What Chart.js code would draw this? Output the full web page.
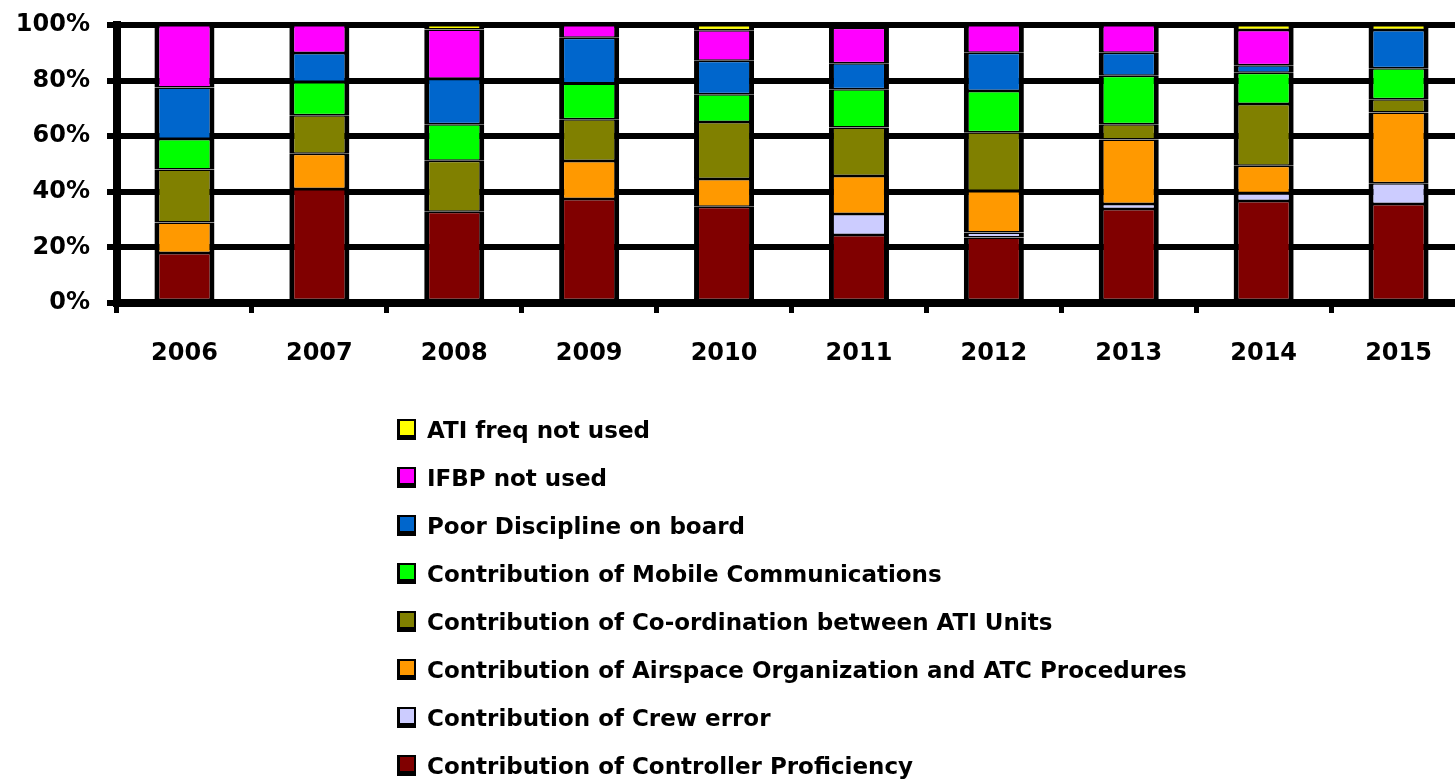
<!DOCTYPE html>
<html>
<head>
<meta charset="utf-8">
<script src="https://cdn.jsdelivr.net/npm/chart.js@4/dist/chart.umd.min.js"></script>
<style>
  html, body { margin: 0; padding: 0; background: #fff; overflow: hidden; }
  canvas { display: block; }
</style>
</head>
<body>
<canvas id="causesChart" width="1470" height="780"></canvas>
<script>
const years = ['2006', '2007', '2008', '2009', '2010', '2011', '2012', '2013', '2014', '2015'];

// shares in %, bottom of the stack first
const controllerProficiency = [18, 41, 32.8, 37.4, 34.6, 24.5, 23.6, 33.8, 36.7, 35.6];
const crewError             = [0, 0, 0, 0, 0, 7.5, 1.8, 1.8, 2.8, 7.5];
const airspaceAtcProcedures = [11, 12.7, 0, 13.7, 10, 13.7, 14.9, 23.2, 9.9, 25.4];
const coordinationAtiUnits  = [19, 13.8, 18.4, 15, 20.5, 17.4, 21.1, 5.5, 22.2, 4.8];
const mobileCommunications  = [11, 12, 13.1, 12.9, 10, 13.8, 14.9, 17.4, 11.2, 11.1];
const poorDiscipline        = [18.5, 10.4, 16.4, 16.4, 12, 9.3, 13.7, 8.3, 2.7, 13.8];
const ifbpNotUsed           = [22.5, 10.1, 17.7, 4.6, 11, 12.8, 10, 10, 12.7, 0];
const atiFreqNotUsed        = [0, 0, 1.6, 0, 1.9, 1, 0, 0, 1.8, 1.8];

const yTicks = [0, 20, 40, 60, 80, 100];

function makeSet(label, data, color) {
  return {
    label: label,
    data: data,
    backgroundColor: color,
    borderColor: '#000',
    borderWidth: { left: 5, right: 5, top: 1.5, bottom: 1.5 },
    borderSkipped: false,
    inflateAmount: 0,
    barPercentage: 0.445,
    categoryPercentage: 1
  };
}

// one-column legend under the plot, top series first
const columnLegend = {
  id: 'columnLegend',
  afterDraw(chart) {
    const ctx = chart.ctx;
    const sets = chart.data.datasets;
    ctx.save();
    ctx.font = 'bold 23px "DejaVu Sans"';
    ctx.textBaseline = 'middle';
    for (let r = 0; r < sets.length; r++) {
      const ds = sets[sets.length - 1 - r];
      const y = 429 + r * 48;
      ctx.fillStyle = '#000';
      ctx.fillRect(397, y - 10, 19, 21);
      ctx.fillStyle = ds.backgroundColor;
      ctx.fillRect(400, y - 8, 14, 14);
      ctx.fillStyle = '#000';
      ctx.fillText(ds.label, 427, y + 3);
    }
    ctx.restore();
  }
};

const ctx = document.getElementById('causesChart').getContext('2d');
new Chart(ctx, {
  type: 'bar',
  data: {
    labels: years,
    datasets: [
      makeSet('Contribution of Controller Proficiency', controllerProficiency, '#800000'),
      makeSet('Contribution of Crew error', crewError, '#CCCCFF'),
      makeSet('Contribution of Airspace Organization and ATC Procedures', airspaceAtcProcedures, '#FF9900'),
      makeSet('Contribution of Co-ordination between ATI Units', coordinationAtiUnits, '#808000'),
      makeSet('Contribution of Mobile Communications', mobileCommunications, '#00FF00'),
      makeSet('Poor Discipline on board', poorDiscipline, '#0066CC'),
      makeSet('IFBP not used', ifbpNotUsed, '#FF00FF'),
      makeSet('ATI freq not used', atiFreqNotUsed, '#FFFF00')
    ]
  },
  options: {
    responsive: false,
    animation: false,
    layout: { padding: { top: 25, right: 4, bottom: 407, left: 0 } },
    plugins: {
      legend: { display: false },
      tooltip: { enabled: false }
    },
    scales: {
      x: {
        stacked: true,
        afterFit(scale) { scale.height = 70; },
        grid: {
          display: true,
          drawOnChartArea: false,
          drawTicks: true,
          tickLength: 10,
          lineWidth: 5,
          color: '#000'
        },
        border: { display: true, color: '#000', width: 8 },
        ticks: {
          padding: 26,
          color: '#000',
          font: { family: 'DejaVu Sans', weight: 'bold', size: 24 }
        }
      },
      y: {
        stacked: true,
        min: 0,
        max: 100,
        afterFit(scale) {
          scale.width = 117;
          scale.paddingTop = 10;
          scale.paddingBottom = 10;
        },
        afterBuildTicks(scale) { scale.ticks = yTicks.map(v => ({ value: v })); },
        grid: {
          color: '#000',
          lineWidth: 6,
          drawTicks: true,
          tickLength: 10
        },
        border: { display: true, color: '#000', width: 8 },
        ticks: {
          padding: 17,
          color: '#000',
          font: { family: 'DejaVu Sans', weight: 'bold', size: 24 },
          callback: v => v + '%'
        }
      }
    }
  },
  plugins: [columnLegend]
});
</script>
</body>
</html>
